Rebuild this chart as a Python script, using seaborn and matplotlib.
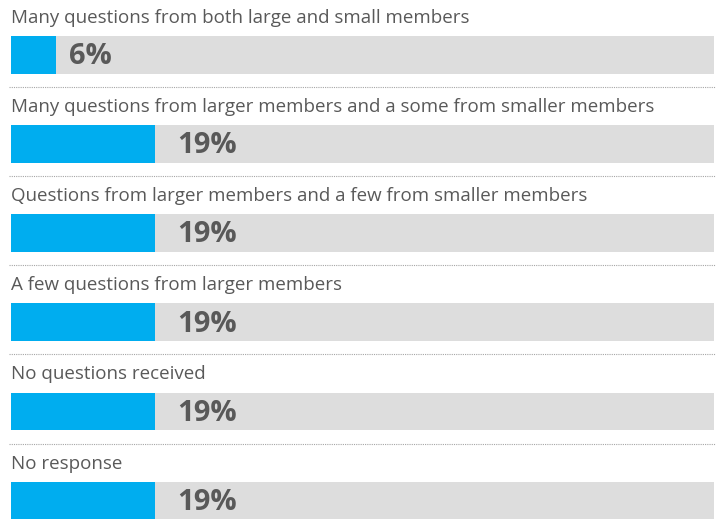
import numpy as np
import pandas as pd
import matplotlib
matplotlib.use("Agg")
import matplotlib.pyplot as plt
import seaborn as sns

# data
answers = [
    "Many questions from both large and small members",
    "Many questions from larger members and a some from smaller members",
    "Questions from larger members and a few from smaller members",
    "A few questions from larger members",
    "No questions received",
    "No response",
]
shares = [6, 19, 19, 19, 19, 19]
track_max = 92.8  # grey background track

sns.set_theme(style="white")
plt.rcParams['font.family'] = ['Open Sans', 'DejaVu Sans']

df = pd.DataFrame({'answer': answers, 'share': shares, 'track': track_max})

fig = plt.figure(figsize=(7.21, 5.19), dpi=100)
ax = fig.add_axes([0, 0, 1, 1])

sns.barplot(data=df, x='track', y='answer', orient='h', color='#dddddd',
            width=0.425, saturation=1, linewidth=0, ax=ax)
sns.barplot(data=df, x='share', y='answer', orient='h', color='#00adef',
            width=0.425, saturation=1, linewidth=0, ax=ax)

txt = '#595959'
for i, (a, v) in enumerate(zip(answers, shares)):
    ax.text(0, i - 0.415, a, ha='left', va='center', fontsize=13.5, color=txt)
    ax.text(v * 1.1 + 1.0, i + 0.02, f"{v}%", ha='left', va='center',
            fontsize=21, fontweight='bold', color=txt)
    if i < len(answers) - 1:
        ax.plot([-0.25, 92.9], [i + 0.36, i + 0.36], color='#a6a6a6',
                lw=0.8, ls=(0, (1, 1)))

ax.set_xlim(-1.45, 93.68)
ax.set_ylim(5.207, -0.617)
ax.set_axis_off()

fig.savefig('out.png', dpi=100)
